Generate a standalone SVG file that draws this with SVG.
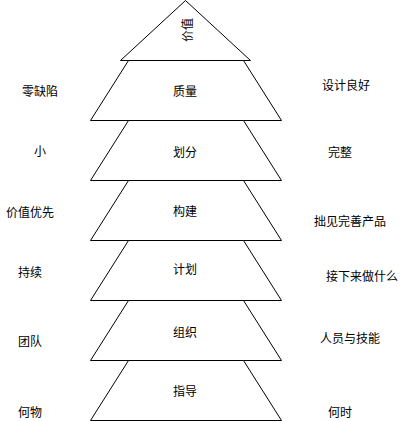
<svg xmlns="http://www.w3.org/2000/svg" width="401" height="421" viewBox="0 0 401 421">
<style>
.s{fill:#fff;stroke:#000;stroke-width:1}
text{font-family:"Noto Sans CJK SC","Liberation Sans",sans-serif;font-size:12px;fill:#000;text-anchor:middle;dominant-baseline:central}
</style>
<rect width="401" height="421" fill="#fff"/>
<g id="top"><polygon class="s" points="185.5,0.5 250.5,60.5 120.5,60.5"/><text transform="translate(186,30) rotate(-90)">价值</text></g>
<g id="l1"><polygon class="s" points="128.5,60.5 243.5,60.5 281.5,120.5 90.5,120.5"/><text x="185" y="90">质量</text></g>
<g id="l2"><polygon class="s" points="128.5,120.5 243.5,120.5 281.5,180.5 90.5,180.5"/><text x="185" y="151">划分</text></g>
<g id="l3"><polygon class="s" points="128.5,180.5 243.5,180.5 281.5,240.5 90.5,240.5"/><text x="185" y="210">构建</text></g>
<g id="l4"><polygon class="s" points="128.5,240.5 243.5,240.5 281.5,300.5 90.5,300.5"/><text x="185" y="268">计划</text></g>
<g id="l5"><polygon class="s" points="128.5,300.5 243.5,300.5 281.5,360.5 90.5,360.5"/><text x="185" y="331">组织</text></g>
<g id="l6"><polygon class="s" points="128.5,360.5 243.5,360.5 281.5,420.5 90.5,420.5"/><text x="185" y="390">指导</text></g>
<g id="left">
<text x="40" y="90">零缺陷</text>
<text x="40" y="150">小</text>
<text x="30" y="211">价值优先</text>
<text x="30" y="271">持续</text>
<text x="30" y="340">团队</text>
<text x="30" y="411">何物</text>
</g>
<g id="right">
<text x="346" y="84">设计良好</text>
<text x="340" y="151">完整</text>
<text x="350" y="220">拙见完善产品</text>
<text x="362" y="275">接下来做什么</text>
<text x="350" y="337">人员与技能</text>
<text x="340" y="411">何时</text>
</g>
<g id="connectors"></g>
</svg>
